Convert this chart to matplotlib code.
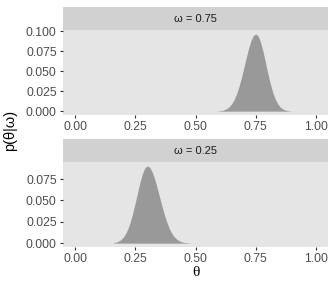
import matplotlib.pyplot as plt
import numpy as np

plt.rcParams['font.family'] = ['Liberation Sans', 'DejaVu Sans']

# Values (grid posterior p(theta|omega))
theta_top = [0.59, 0.60, 0.61, 0.62, 0.63, 0.64, 0.65, 0.66, 0.67, 0.68, 0.69,
             0.70, 0.71, 0.72, 0.73, 0.74, 0.75, 0.76, 0.77, 0.78, 0.79, 0.80,
             0.81, 0.82, 0.83, 0.84, 0.85, 0.86, 0.87, 0.88, 0.89, 0.90]
p_top = [0.0002, 0.0005, 0.0009, 0.0018, 0.0032, 0.0056, 0.0091, 0.0143, 0.0214,
         0.0305, 0.0414, 0.0537, 0.0665, 0.0784, 0.0883, 0.0947, 0.0970, 0.0943,
         0.0866, 0.0752, 0.0616, 0.0478, 0.0350, 0.0242, 0.0158, 0.0098, 0.0057,
         0.0031, 0.0016, 0.0008, 0.0004, 0.0001]

theta_bot = [0.16, 0.17, 0.18, 0.19, 0.20, 0.21, 0.22, 0.23, 0.24, 0.25, 0.26,
             0.27, 0.28, 0.29, 0.30, 0.31, 0.32, 0.33, 0.34, 0.35, 0.36, 0.37,
             0.38, 0.39, 0.40, 0.41, 0.42, 0.43, 0.44, 0.45, 0.46, 0.47, 0.48]
p_bot = [0.0005, 0.0011, 0.0022, 0.0040, 0.0068, 0.0112, 0.0173, 0.0255, 0.0357,
         0.0474, 0.0599, 0.0717, 0.0816, 0.0882, 0.0905, 0.0887, 0.0835, 0.0756,
         0.0657, 0.0549, 0.0441, 0.0340, 0.0252, 0.0179, 0.0122, 0.0080, 0.0051,
         0.0031, 0.0018, 0.0010, 0.0006, 0.0003, 0.0001]

strip_labels = ['\u03c9 = 0.75', '\u03c9 = 0.25']
x_ticks = [0.00, 0.25, 0.50, 0.75, 1.00]
y_ticks_top = [0.000, 0.025, 0.050, 0.075, 0.100]
y_ticks_bot = [0.000, 0.025, 0.050, 0.075]

W, H = 336, 288
fig = plt.figure(figsize=(W / 100, H / 100), dpi=100)


# Helper: place an axes using pixel coordinates (top-left origin)
def px_axes(left, top, right, bottom):
    return fig.add_axes([left / W, 1 - bottom / H, (right - left) / W, (bottom - top) / H])


def draw_panel(ax_top, theta, p, label, yticks):
    strip = px_axes(63, ax_top - 23, 328, ax_top)
    strip.set_facecolor('#D1D1D1')
    strip.set_xticks([])
    strip.set_yticks([])
    for s in strip.spines.values():
        s.set_visible(False)
    strip.text(0.5, 0.5, label, ha='center', va='center', fontsize=8, color='#1A1A1A',
               transform=strip.transAxes)

    ax = px_axes(63, ax_top, 328, ax_top + 85)
    ax.set_facecolor('#E5E5E5')
    ax.fill_between(theta, p, 0, color='#999999', linewidth=0)
    m = max(p)
    ax.set_xlim(-0.05, 1.05)
    ax.set_ylim(-0.05 * m, 1.05 * m)
    ax.set_xticks(x_ticks)
    ax.set_xticklabels([f'{v:.2f}' for v in x_ticks])
    ax.set_yticks(yticks)
    ax.set_yticklabels([f'{v:.3f}' for v in yticks])
    ax.tick_params(length=2.5, width=0.8, color='#333333', labelcolor='#4D4D4D',
                   labelsize=8.8, pad=2)
    for s in ax.spines.values():
        s.set_visible(False)
    return ax


draw_panel(30, theta_top, p_top, strip_labels[0], y_ticks_top)
draw_panel(162, theta_bot, p_bot, strip_labels[1], y_ticks_bot)

fig.text(195.5 / W, 1 - 272 / H, '\u03b8', ha='center', va='center', fontsize=11,
         family='Liberation Serif')
fig.text(10 / W, 1 - 130 / H, 'p(\u03b8|\u03c9)', ha='center', va='center', fontsize=10.5,
         rotation=90)

fig.savefig('out.png', dpi=100)
